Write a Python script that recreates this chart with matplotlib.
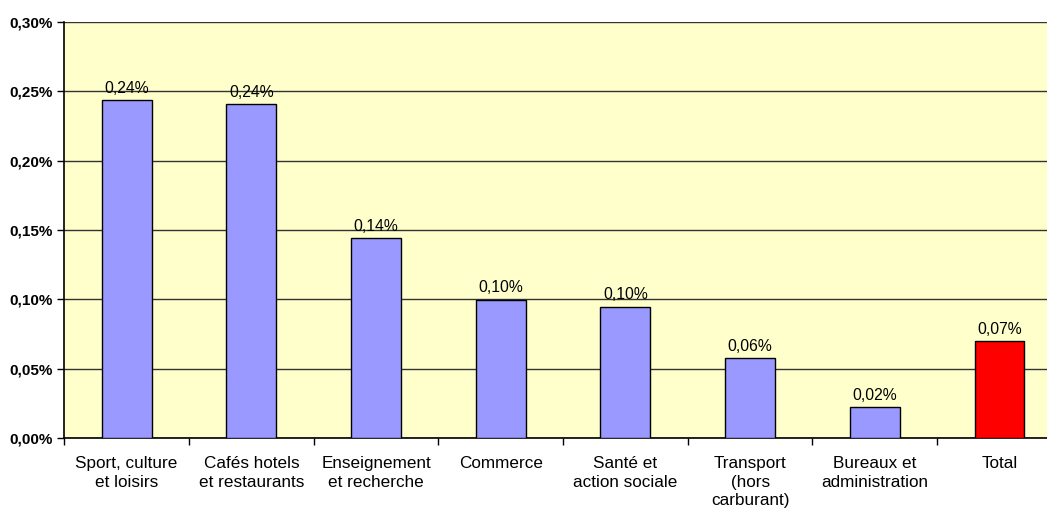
import matplotlib.pyplot as plt
from matplotlib.ticker import FuncFormatter, MultipleLocator, FixedLocator

categories = ["Sport, culture\net loisirs", "Cafés hotels\net restaurants",
              "Enseignement\net recherche", "Commerce", "Santé et\naction sociale",
              "Transport\n(hors\ncarburant)", "Bureaux et\nadministration", "Total"]
values = [0.2437, 0.2408, 0.1442, 0.0998, 0.0948, 0.0578, 0.0225, 0.0700]
labels = ["0,24%", "0,24%", "0,14%", "0,10%", "0,10%", "0,06%", "0,02%", "0,07%"]
colors = ["#9999FF"] * 7 + ["#FF0000"]

plt.rcParams['font.family'] = ['Liberation Sans', 'DejaVu Sans']

fig = plt.figure(figsize=(10.47, 5.11), dpi=100)
ax = fig.add_axes([64.3 / 1047, 73 / 511, 997.5 / 1047, 416 / 511])
ax.set_facecolor("#FFFFCC")

x = list(range(len(categories)))
bars = ax.bar(x, values, width=0.40, color=colors, edgecolor="black", linewidth=1, zorder=3)
for b, lab in zip(bars, labels):
    ax.annotate(lab, (b.get_x() + b.get_width() / 2, b.get_height()),
                xytext=(0, 3), textcoords="offset points",
                ha="center", va="bottom", fontsize=11.3)

ax.set_xlim(-0.5, len(categories) - 0.5)
ax.set_ylim(0, 0.30)
ax.yaxis.set_major_locator(MultipleLocator(0.05))
ax.yaxis.set_major_formatter(FuncFormatter(lambda v, p: f"{v:.2f}%".replace(".", ",")))
ax.grid(axis="y", color="#333333", linewidth=1, zorder=1)
ax.set_axisbelow(True)

ax.set_xticks(x)
ax.set_xticklabels(categories, fontsize=12.3, linespacing=1.3)
ax.xaxis.set_minor_locator(FixedLocator([i - 0.5 for i in range(len(categories) + 1)]))
ax.tick_params(axis="x", which="major", length=0, pad=13)
ax.tick_params(axis="x", which="minor", length=5, width=1, color="black")
ax.tick_params(axis="y", length=5, width=1, pad=3)
for t in ax.get_yticklabels():
    t.set_fontweight("bold")
    t.set_fontsize(11)

for s in ["top", "right"]:
    ax.spines[s].set_visible(False)
ax.spines["left"].set_linewidth(1.2)
ax.spines["bottom"].set_linewidth(1.2)

fig.savefig("out.png", dpi=100)
